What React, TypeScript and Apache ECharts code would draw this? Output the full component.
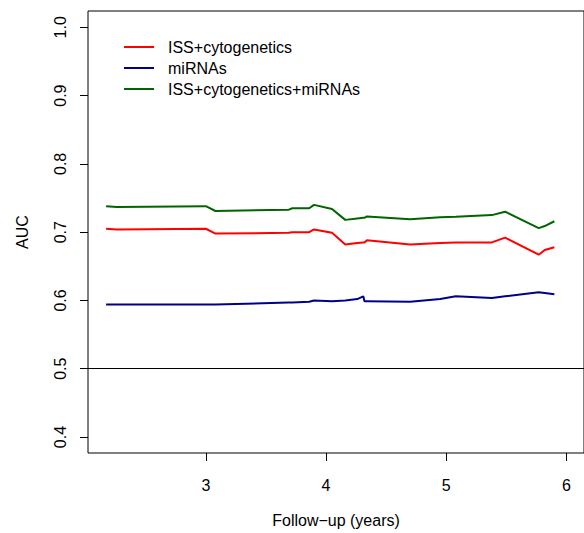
import React, { useEffect, useRef } from "react";
import * as echarts from "echarts";

const times = [2.17, 2.26, 3.0, 3.08, 3.69, 3.72, 3.86, 3.9, 4.05, 4.16, 4.26, 4.31, 4.32, 4.34, 4.7, 4.95, 5.08, 5.38, 5.49, 5.77, 5.82, 5.9];
const issCyto = [0.705, 0.704, 0.705, 0.698, 0.699, 0.7, 0.7, 0.704, 0.699, 0.682, 0.684, 0.685, 0.685, 0.688, 0.682, 0.684, 0.685, 0.685, 0.692, 0.667, 0.674, 0.678];
const mirnas = [0.594, 0.594, 0.594, 0.594, 0.597, 0.597, 0.598, 0.6, 0.599, 0.6, 0.602, 0.606, 0.599, 0.599, 0.598, 0.602, 0.606, 0.6035, 0.606, 0.612, 0.611, 0.609];
const combined = [0.738, 0.737, 0.738, 0.731, 0.733, 0.735, 0.735, 0.74, 0.734, 0.718, 0.72, 0.721, 0.721, 0.723, 0.719, 0.722, 0.7225, 0.725, 0.73, 0.706, 0.709, 0.716];

const seriesNames = ["ISS+cytogenetics", "miRNAs", "ISS+cytogenetics+miRNAs"];
const seriesColors = ["#FF0000", "#00008B", "#006400"];
const xTicks = [3, 4, 5, 6];
const yTicks = [0.4, 0.5, 0.6, 0.7, 0.8, 0.9, 1.0];
const refLine = 0.5;

const FONT = "'Liberation Sans', Arial, Helvetica, sans-serif";

export default function App() {
  const ref = useRef<HTMLDivElement>(null);
  useEffect(() => {
    if (!ref.current) return;
    const chart = echarts.init(ref.current, null, { renderer: "svg" });
    const all = [issCyto, mirnas, combined];
    const series: any[] = all.map((vals, si) => ({
      name: seriesNames[si],
      type: "line",
      data: times.map((t, i) => [t, vals[i]]),
      symbol: "none",
      showSymbol: false,
      lineStyle: { color: seriesColors[si], width: 2 },
      itemStyle: { color: seriesColors[si] },
      z: 3,
    }));
    series[0].markLine = {
      silent: true,
      symbol: ["none", "none"],
      label: { show: false },
      lineStyle: { color: "#000", width: 1, type: "solid" },
      data: [{ yAxis: refLine }],
    };
    chart.setOption({
      animation: false,
      backgroundColor: "#fff",
      textStyle: { fontFamily: FONT },
      grid: {
        left: 88,
        top: 11,
        right: -2,
        bottom: 79.7,
        show: true,
        borderColor: "#000",
        borderWidth: 1,
        backgroundColor: "transparent",
      },
      legend: {
        orient: "vertical",
        left: 124,
        top: 39,
        padding: 0,
        icon: "rect",
        itemWidth: 30,
        itemHeight: 2,
        itemGap: 5,
        selectedMode: false,
        data: seriesNames,
        textStyle: {
          fontFamily: FONT,
          fontSize: 16,
          color: "#000",
          lineHeight: 16,
          padding: [0, 0, 0, 9],
        },
      },
      xAxis: {
        type: "value",
        min: 2.0196,
        max: 6.1466,
        name: "Follow\u2212up (years)",
        nameLocation: "middle",
        nameGap: 59,
        nameTextStyle: { fontFamily: FONT, fontSize: 16, color: "#000" },
        axisLine: { show: false },
        splitLine: { show: false },
        axisTick: { show: true, length: 8, lineStyle: { color: "#000" }, customValues: xTicks },
        axisLabel: { fontFamily: FONT, fontSize: 16, color: "#000", margin: 24, customValues: xTicks, formatter: (v: number) => String(v) },
      },
      yAxis: {
        type: "value",
        min: 0.3766,
        max: 1.0239,
        name: "AUC",
        nameLocation: "middle",
        nameGap: 58,
        nameTextStyle: { fontFamily: FONT, fontSize: 16, color: "#000" },
        axisLine: { show: false },
        splitLine: { show: false },
        axisTick: { show: true, length: 8, lineStyle: { color: "#000" }, customValues: yTicks },
        axisLabel: {
          fontFamily: FONT,
          fontSize: 16,
          color: "#000",
          rotate: 90,
          margin: 20,
          customValues: yTicks,
          formatter: (v: number) => v.toFixed(1),
        },
      },
      series,
    });
    return () => chart.dispose();
  }, []);
  return (
    <div
      ref={ref}
      style={{ position: "fixed", left: 0, top: 0, width: 584, height: 533, background: "#fff" }}
    />
  );
}
